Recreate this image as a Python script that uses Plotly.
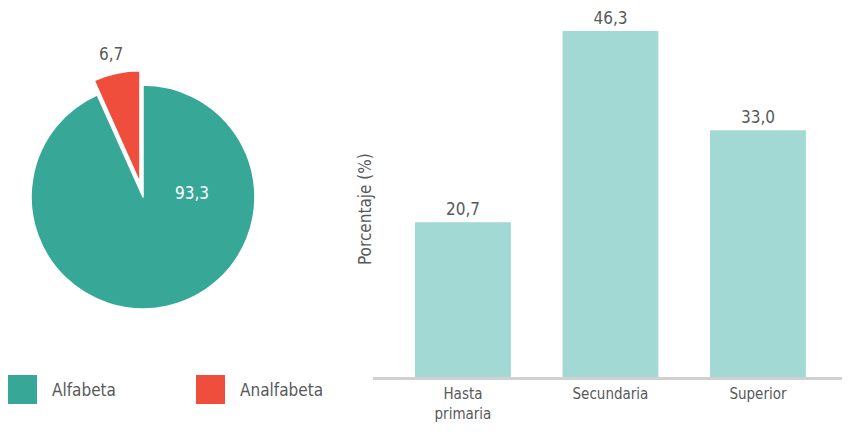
import plotly.graph_objects as go

# data
literacy_labels = ['Alfabeta', 'Analfabeta']
literacy_values = [93.3, 6.7]
literacy_colors = ['#37A897', '#F04E3C']

level_labels = ['Hasta<br>primaria', 'Secundaria', 'Superior']
level_values = [20.7, 46.3, 33.0]

FONT = 'Liberation Sans Narrow, DejaVu Sans Condensed, sans-serif'
TEXT_COLOR = '#58595B'

# the page body keeps an 8px margin, so the figure is 834x416 drawn at (8, 8)
W, H, OFF = 834, 416, 8


def px(x):
    return (x - OFF) / W


def py(y):
    return 1 - (y - OFF) / H


def fmt(v):
    return f'{v:.1f}'.replace('.', ',')


fig = go.Figure()

fig.add_trace(go.Pie(
    labels=literacy_labels,
    values=literacy_values,
    sort=False,
    direction='clockwise',
    rotation=0,
    pull=[0, 0.13],
    marker=dict(colors=literacy_colors, line=dict(color='white', width=1.5)),
    textinfo='none',
    domain=dict(x=[px(16.5), px(269.5)], y=[py(323.5), py(70.5)]),
    automargin=False,
    showlegend=False,
    hoverinfo='label+value',
))

fig.add_trace(go.Bar(
    x=level_labels,
    y=level_values,
    marker=dict(color='#A2D9D4'),
    text=level_values,
    texttemplate='%{y:.1f}',
    textposition='outside',
    cliponaxis=False,
    textfont=dict(family=FONT, size=17, color=TEXT_COLOR),
    showlegend=False,
))

# pie value labels (inside the big slice, above the pulled slice)
annotations = [
    dict(text=fmt(literacy_values[0]), x=px(192), y=py(193),
         xref='paper', yref='paper', xanchor='center', yanchor='middle',
         showarrow=False, font=dict(family=FONT, size=17, color='white')),
    dict(text=fmt(literacy_values[1]), x=px(111), y=py(54),
         xref='paper', yref='paper', xanchor='center', yanchor='middle',
         showarrow=False, font=dict(family=FONT, size=17, color=TEXT_COLOR)),
]

# hand-made legend with big squares
shapes = []
legend_x = [8, 196]
for name, color, lx in zip(literacy_labels, literacy_colors, legend_x):
    shapes.append(dict(
        type='rect', xref='paper', yref='paper',
        x0=px(lx), x1=px(lx + 29),
        y0=py(404), y1=py(375),
        fillcolor=color, line=dict(width=0),
    ))
    annotations.append(dict(
        text=name, x=px(lx + 42), y=py(390),
        xref='paper', yref='paper', xanchor='left', yanchor='middle',
        showarrow=False,
        font=dict(family=FONT, size=17, color=TEXT_COLOR),
    ))

annotations.append(dict(
    text='Porcentaje (%)', textangle=-90,
    x=px(365), y=py(209), xref='paper', yref='paper',
    xanchor='center', yanchor='middle',
    showarrow=False, font=dict(family=FONT, size=17, color=TEXT_COLOR),
))

fig.update_layout(
    template='none',
    separators=', ',
    margin=dict(t=0, b=0, l=0, r=0, pad=0, autoexpand=False),
    paper_bgcolor='white',
    plot_bgcolor='white',
    bargap=0.35,
    xaxis=dict(
        domain=[px(373), 1.0],
        range=[-0.61, 2.57],
        automargin=False,
        showline=True,
        linecolor='#D0D0D0',
        linewidth=3,
        ticks='',
        ticklabelstandoff=1,
        tickfont=dict(family=FONT, size=15, color=TEXT_COLOR),
        showgrid=False,
        zeroline=False,
    ),
    yaxis=dict(
        domain=[py(377), py(10)],
        range=[0, 49.1],
        automargin=False,
        visible=False,
    ),
    shapes=shapes,
    annotations=annotations,
)

fig.write_html('out.html')
